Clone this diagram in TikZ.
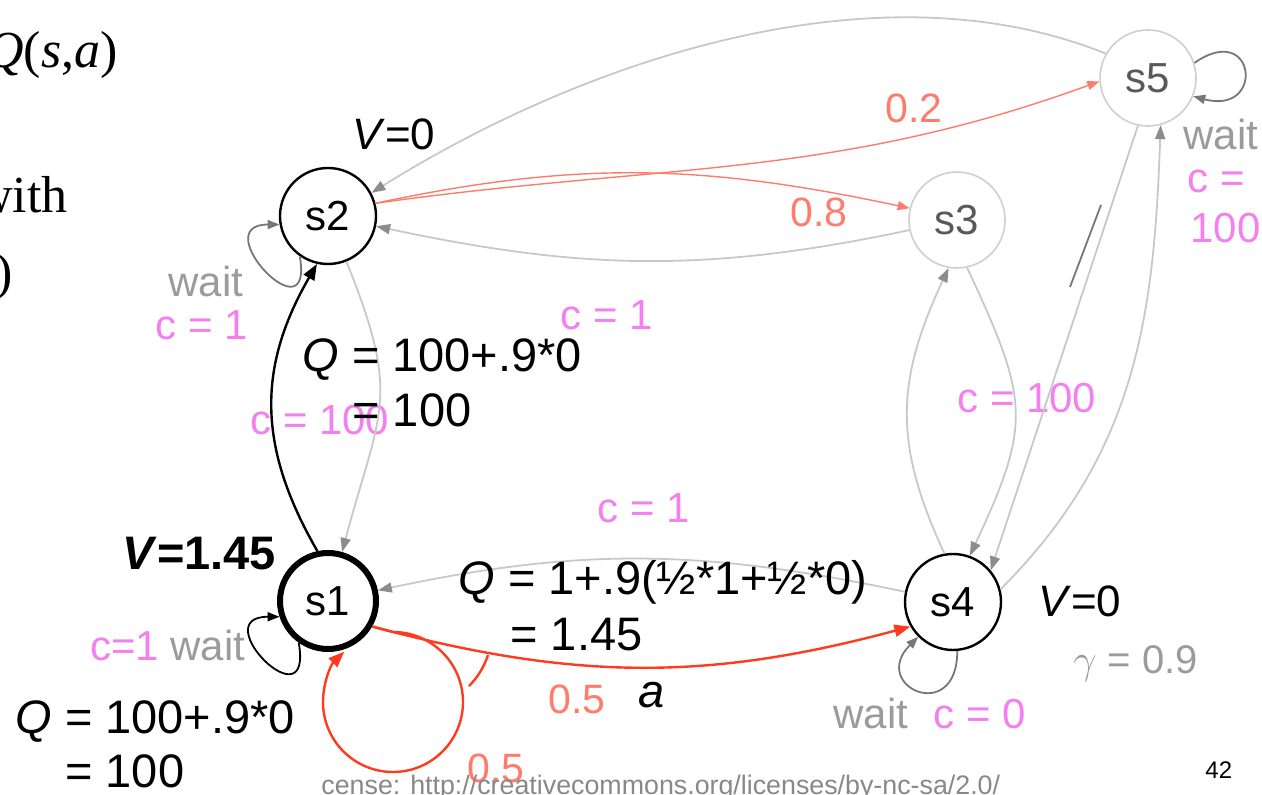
\documentclass[tikz,border=0pt]{standalone}
\usepackage{fontspec}
\setmainfont{Liberation Sans}
\newfontfamily\slideserif{Liberation Serif}
\usetikzlibrary{arrows.meta,positioning}
\definecolor{costpink}{HTML}{F47FEF}
\definecolor{probred}{HTML}{FF7B6B}
\definecolor{actred}{HTML}{FF3A1E}
\definecolor{waitgrey}{HTML}{9B9B9B}
\definecolor{edgegrey}{HTML}{C8C8C8}
\definecolor{tipgrey}{HTML}{8C8C8C}
\definecolor{loopgrey}{HTML}{777777}
\definecolor{ghost}{HTML}{CFCFCF}
\definecolor{licgrey}{HTML}{888888}
\tikzset{
  state/.style={circle, draw=black, line width=1.2pt, fill=white, minimum size=48pt,
                inner sep=0pt, font=\fontsize{21}{25}\selectfont},
  current/.style={state, line width=3pt},
  ghoststate/.style={state, draw=ghost, line width=0.8pt, text=black!65},
  eq/.style={anchor=base west, inner sep=0pt, font=\fontsize{23.5}{28}\selectfont},
  vtag/.style={eq, font=\fontsize{22}{26}\selectfont},
  cost/.style={anchor=base west, inner sep=0pt, text=costpink, font=\fontsize{21}{25}\selectfont},
  waittag/.style={anchor=base west, inner sep=0pt, text=waitgrey, font=\fontsize{21}{25}\selectfont},
  prob/.style={anchor=base west, inner sep=0pt, text=probred, font=\fontsize{20.5}{24}\selectfont},
  slide/.style={anchor=base east, inner sep=0pt, font=\slideserif\fontsize{26}{30}\selectfont},
  trans/.style={-{Triangle[length=7pt,width=5pt,color=tipgrey]}, edgegrey, line width=0.9pt},
  branch/.style={-{Triangle[length=6pt,width=4.5pt]}, probred, line width=0.7pt},
  act/.style={-{Triangle[length=8pt,width=6pt]}, actred, line width=1.2pt},
  selfloop/.style={-{Triangle[length=6pt,width=4.5pt]}, loopgrey, line width=0.9pt},
}

\begin{document}
\begin{tikzpicture}[x=0.5pt, y=0.5pt]
  \useasboundingbox (0,0) rectangle (1262,-795);

  \node[current] (s1) at (328,-601) {s1};
  \node[state] (s2) at (328,-216) {s2};
  \node[ghoststate] (s3) at (957,-220) {s3};
  \node[state] (s4) at (953,-602) {s4};
  \node[ghoststate] (s5) at (1148,-78) {s5};

  \coordinate (looptop) at (393,-632);
  \coordinate (fork) at (488,-655);
  \coordinate (tickA) at (1070,-287);
  \coordinate (tickB) at (1101,-205);

  \node[cost] (c21) at (250,-435) {c = 100};
  \node[cost] (c34) at (957,-413) {c = 100};
  \node[cost] (c23) at (560,-330) {c = 1};
  \node[cost] (c41) at (597,-523) {c = 1};

  \draw[trans] (s5.150) to[out=158,in=32,looseness=0.85] (s2.28);
  \draw[trans] (s3) to[out=192,in=-12] (s2);
  \draw[trans] (s2.-68) to[out=-68,in=75,looseness=1.3] (s1.74);
  \draw[trans] (s4) to[out=168,in=12] (s1);
  \draw[trans] (s4.100) to[out=115,in=-115,looseness=1.1] (s3.-100);
  \draw[trans] (s3.-78) to[out=-65,in=65,looseness=1.3] (s4.70);
  \draw[trans] (s5.-102) -- (s4.40);
  \draw[trans] (s4.15) to[out=45,in=-92] (s5.-75);
  \draw[loopgrey, line width=0.9pt] (tickA) -- (tickB);

  \draw[branch] (s2.15) to[out=12,in=168] (s3.166);
  \draw[branch] (s2.15) to[out=8,in=200] (s5.184);

  \draw[-{Triangle[length=8pt,width=6pt]}, line width=1.2pt] (s1.102) to[out=120,in=-120,looseness=1.07] (s2.257);
  \draw[act] (s1.-30) to[out=-15,in=195] (s4.210);
  \draw[act] (s1.-30) -- (looptop) arc[start angle=90, end angle=-226, radius=70];
  \draw[actred, line width=1.2pt] (fork) arc[start angle=-18, end angle=-45, radius=78];

  \draw[selfloop, black] (s1.235) .. controls +(-80:85) and +(180:75) .. (s1.198);
  \draw[selfloop] (s2.235) .. controls +(-80:85) and +(180:75) .. (s2.190);
  \draw[selfloop] (s4.275) .. controls +(-90:75) and +(225:70) .. (s4.225);
  \draw[selfloop] (s5.18) .. controls +(35:75) and +(-15:75) .. (s5.-22);

  \node[slide] (qsa) at (118,-68) {\textit{Q}(\textit{s},\textit{a})};
  \node[slide] (with) at (68,-213) {with};
  \node[slide] (paren) at (13,-290) {)};

  \node[vtag] (vs2) at (352,-150) {\textit{V}=0};
  \node[waittag] (wait2) at (168,-297) {wait};
  \node[cost] (c2) at (155,-340) {c = 1};
  \node[eq] (q2a) at (302,-372) {\textit{Q} = 100+.9*0};
  \node[eq] (q2b) at (352,-427) {= 100};

  \node[eq] (vs1) at (122,-570) {\textbf{\textit{V}=1.45}};
  \node[eq] (q4a) at (458,-595) {\textit{Q} = 1+.9(½*1+½*0)};
  \node[eq] (q4b) at (510,-650) {= 1.45};
  \node[cost] (c1) at (90,-660) {c=1};
  \node[waittag] (wait1) at (170,-660) {wait};
  \node[eq] (q1a) at (15,-733) {\textit{Q} = 100+.9*0};
  \node[eq] (q1b) at (65,-787) {= 100};
  \node[prob] (pa) at (548,-713) {0.5};
  \node[eq] (acta) at (638,-707) {\textit{a}};
  \node[prob] (pb) at (467,-782) {0.5};
  \node[anchor=base west, inner sep=0pt, text=licgrey, font=\fontsize{13.4}{16}\selectfont] (lic)
    at (321,-794) {cense: http://creativecommons.org/licenses/by-nc-sa/2.0/};

  \node[waittag] (wait4) at (833,-728) {wait};
  \node[cost] (c4) at (933,-728) {c = 0};
  \node[vtag] (vs4) at (1038,-617) {\textit{V}=0};
  \node[waittag, font=\fontsize{20}{24}\selectfont] (gam) at (1073,-673) {$\gamma$ = 0.9};
  \node[anchor=base west, inner sep=0pt, font=\fontsize{12}{14}\selectfont] (page) at (1205,-778) {42};

  \node[prob] (p2) at (885,-123) {0.2};
  \node[prob] (p8) at (790,-227) {0.8};
  \node[waittag] (wait5) at (1183,-150) {wait};
  \node[cost] (c5a) at (1187,-193) {c =};
  \node[cost] (c5b) at (1190,-243) {100};
\end{tikzpicture}
\end{document}
